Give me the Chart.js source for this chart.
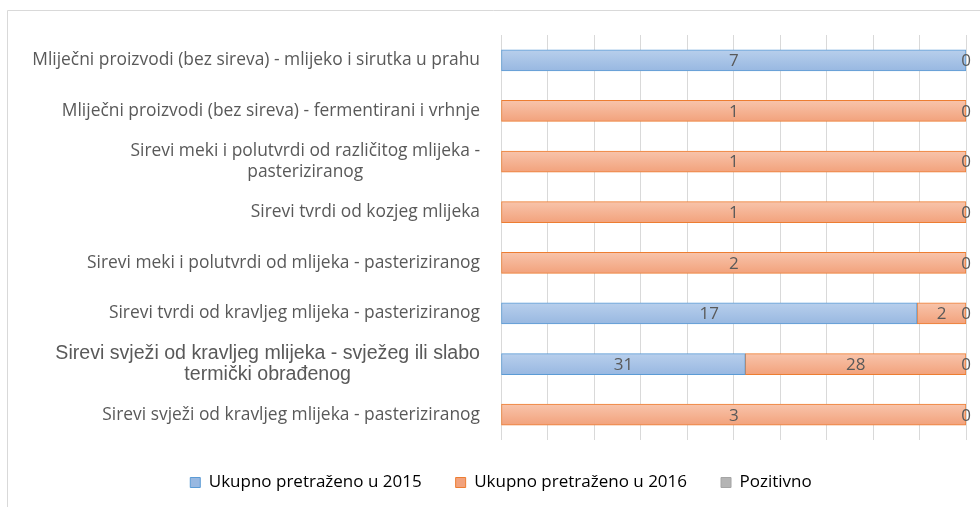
<!DOCTYPE html>
<html lang="hr">
<head>
    <meta charset="UTF-8">
    <title>Pretraženi uzorci mliječnih proizvoda</title>
    <script src="https://cdn.jsdelivr.net/npm/chart.js"></script>
    <style>
        html, body { margin: 0; padding: 0; background: #fff; }
        #wrap { width: 980px; height: 507px; position: relative; }
    </style>
</head>
<body>
<div id="wrap"><canvas id="chart"></canvas></div>
<script>
    // kategorije proizvoda (odozgo prema dolje)
    const categories = [
        'Mliječni proizvodi (bez sireva) - mlijeko i sirutka u prahu',
        'Mliječni proizvodi (bez sireva) - fermentirani i vrhnje',
        ['Sirevi meki i polutvrdi od različitog mlijeka -', 'pasteriziranog'],
        'Sirevi tvrdi od kozjeg mlijeka',
        'Sirevi meki i polutvrdi od mlijeka - pasteriziranog',
        'Sirevi tvrdi od kravljeg mlijeka - pasteriziranog',
        ['Sirevi svježi od kravljeg mlijeka - svježeg ili slabo', 'termički obrađenog'],
        'Sirevi svježi od kravljeg mlijeka - pasteriziranog'
    ];

    const seriesNames = ['Ukupno pretraženo u 2015', 'Ukupno pretraženo u 2016', 'Pozitivno'];
    const searched2015 = [7, null, null, null, null, 17, 31, null];
    const searched2016 = [null, 1, 1, 1, 2, 2, 28, 3];
    const positive = [0, 0, 0, 0, 0, 0, 0, 0];

    const xTicks = [0, 10, 20, 30, 40, 50, 60, 70, 80, 90, 100];

    const counts = [searched2015, searched2016, positive];
    const totals = categories.map((c, i) => counts.reduce((s, arr) => s + (arr[i] || 0), 0));
    const toPercent = arr => arr.map((v, i) => v === null ? null : v / totals[i] * 100);

    const textGrey = '#595959';
    const labelFont = '17.4px "Open Sans"';
    const arialFont = '19.6px "Liberation Sans"';
    const styles = [
        { top: '#b8cfec', bottom: '#98b8e1', border: '#5b9bd5' },
        { top: '#f8c4ab', bottom: '#f2a27c', border: '#ed7d31' },
        { top: '#d0d0d0', bottom: '#b4b4b4', border: '#a5a5a5' }
    ];
    const barHeight = 21;

    // vertikalni gradijent za svaki stupac posebno
    function barFill(style) {
        return ctx => {
            const chart = ctx.chart;
            if (ctx.type !== 'data' || !chart.scales.y) return style.top;
            const yc = chart.scales.y.getPixelForValue(ctx.dataIndex);
            const g = chart.ctx.createLinearGradient(0, yc - barHeight / 2, 0, yc + barHeight / 2);
            g.addColorStop(0, style.top);
            g.addColorStop(1, style.bottom);
            return g;
        };
    }

    const datasets = counts.map((arr, k) => ({
        label: seriesNames[k],
        data: toPercent(arr),
        counts: arr,
        backgroundColor: barFill(styles[k]),
        borderColor: styles[k].border,
        borderWidth: 1,
        borderSkipped: false,
        barThickness: barHeight
    }));

    // okvir oko grafikona
    const frame = {
        id: 'frame',
        beforeDraw(chart) {
            const c = chart.ctx;
            c.save();
            c.strokeStyle = '#d9d9d9';
            c.lineWidth = 1;
            c.beginPath();
            c.moveTo(7.5, chart.height);
            c.lineTo(7.5, 10.5);
            c.lineTo(chart.width, 10.5);
            c.stroke();
            c.restore();
        }
    };

    // nazivi kategorija lijevo od stupaca
    const categoryLabels = {
        id: 'categoryLabels',
        afterDraw(chart) {
            const c = chart.ctx;
            const yScale = chart.scales.y;
            const right = chart.chartArea.left - 21;
            c.save();
            c.fillStyle = textGrey;
            c.textBaseline = 'middle';
            categories.forEach((label, i) => {
                const lines = Array.isArray(label) ? label : [label];
                c.font = i === 6 ? arialFont : labelFont;
                const lh = 21;
                const yc = yScale.getPixelForValue(i);
                const maxW = Math.max(...lines.map(l => c.measureText(l).width));
                const cx = right - maxW / 2;
                c.textAlign = 'center';
                lines.forEach((l, j) => {
                    c.fillText(l, cx, yc + (j - (lines.length - 1) / 2) * lh);
                });
            });
            c.restore();
        }
    };

    // brojčane vrijednosti unutar stupaca
    const valueLabels = {
        id: 'valueLabels',
        afterDatasetsDraw(chart) {
            const c = chart.ctx;
            c.save();
            c.fillStyle = textGrey;
            c.font = '17px "Open Sans"';
            c.textAlign = 'center';
            c.textBaseline = 'middle';
            chart.data.datasets.forEach((ds, k) => {
                const meta = chart.getDatasetMeta(k);
                meta.data.forEach((bar, i) => {
                    const v = ds.counts[i];
                    if (v === null || v === undefined) return;
                    c.fillText(String(v), (bar.x + bar.base) / 2, bar.y + 1);
                });
            });
            c.restore();
        }
    };

    function draw() {
        new Chart(document.getElementById('chart'), {
            type: 'bar',
            data: { labels: categories, datasets: datasets },
            options: {
                indexAxis: 'y',
                responsive: true,
                maintainAspectRatio: false,
                animation: false,
                layout: { padding: { left: 36, right: 14, top: 35, bottom: 6 } },
                scales: {
                    x: {
                        stacked: true,
                        min: 0,
                        max: 100,
                        afterBuildTicks: axis => { axis.ticks = xTicks.map(v => ({ value: v })); },
                        ticks: { display: false },
                        grid: { color: '#d9d9d9', lineWidth: 1, drawTicks: false },
                        border: { display: false }
                    },
                    y: {
                        stacked: true,
                        ticks: { display: false },
                        grid: { display: false, drawTicks: false },
                        border: { display: false },
                        afterFit: axis => { axis.width = 465; }
                    }
                },
                plugins: {
                    legend: {
                        position: 'bottom',
                        labels: {
                            boxWidth: 10,
                            boxHeight: 10,
                            padding: 34,
                            color: textGrey,
                            font: { family: 'Open Sans', size: 17 },
                            generateLabels: chart => seriesNames.map((name, k) => ({
                                text: name,
                                fillStyle: styles[k].bottom,
                                strokeStyle: styles[k].border,
                                lineWidth: 1,
                                hidden: false,
                                datasetIndex: k
                            }))
                        }
                    },
                    tooltip: { enabled: false }
                }
            },
            plugins: [frame, categoryLabels, valueLabels]
        });
    }

    Promise.all([
        document.fonts.load(labelFont),
        document.fonts.load(arialFont)
    ]).then(draw, draw);
</script>
</body>
</html>
